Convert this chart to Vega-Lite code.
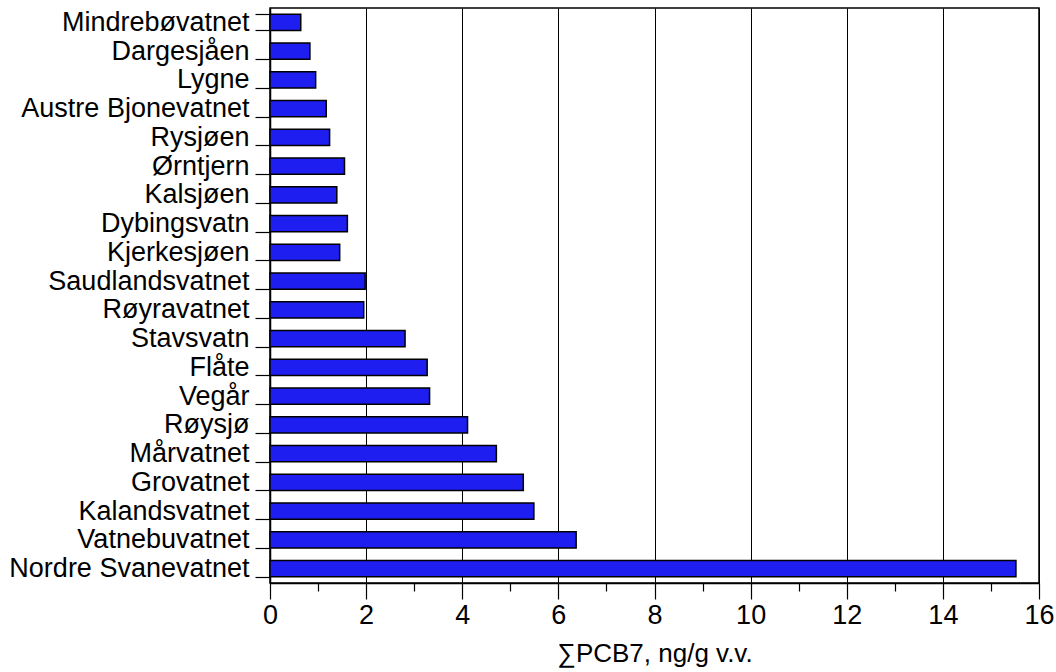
{
  "$schema": "https://vega.github.io/schema/vega-lite/v6.json",
  "autosize": "none",
  "width": 769,
  "height": 575,
  "padding": {"left": 270, "top": 8, "right": 17, "bottom": 89},
  "background": "white",
  "data": {
    "values": [
      {"lake": "Mindrebøvatnet", "pcb7": 0.64},
      {"lake": "Dargesjåen", "pcb7": 0.83},
      {"lake": "Lygne", "pcb7": 0.95},
      {"lake": "Austre Bjonevatnet", "pcb7": 1.17},
      {"lake": "Rysjøen", "pcb7": 1.24},
      {"lake": "Ørntjern", "pcb7": 1.55},
      {"lake": "Kalsjøen", "pcb7": 1.39},
      {"lake": "Dybingsvatn", "pcb7": 1.61},
      {"lake": "Kjerkesjøen", "pcb7": 1.45},
      {"lake": "Saudlandsvatnet", "pcb7": 1.98},
      {"lake": "Røyravatnet", "pcb7": 1.95},
      {"lake": "Stavsvatn", "pcb7": 2.81},
      {"lake": "Flåte", "pcb7": 3.27},
      {"lake": "Vegår", "pcb7": 3.32},
      {"lake": "Røysjø", "pcb7": 4.11},
      {"lake": "Mårvatnet", "pcb7": 4.71},
      {"lake": "Grovatnet", "pcb7": 5.27},
      {"lake": "Kalandsvatnet", "pcb7": 5.49},
      {"lake": "Vatnebuvatnet", "pcb7": 6.37},
      {"lake": "Nordre Svanevatnet", "pcb7": 15.52}
    ]
  },
  "mark": {"type": "bar", "fill": "#1e1ef0", "stroke": "black", "strokeWidth": 1.5},
  "encoding": {
    "y": {
      "field": "lake",
      "type": "nominal",
      "sort": null,
      "scale": {"paddingInner": 0.44, "paddingOuter": 0.22},
      "axis": {
        "title": null,
        "tickBand": "extent",
        "tickSize": 15,
        "tickColor": "black",
        "tickWidth": 1.2,
        "domainColor": "black",
        "domainWidth": 1.5,
        "labelFont": "Liberation Sans",
        "labelFontSize": 27,
        "labelColor": "black",
        "labelPadding": 6,
        "labelLimit": 0,
        "grid": false
      }
    },
    "x": {
      "field": "pcb7",
      "type": "quantitative",
      "scale": {"domain": [0, 16], "nice": false},
      "axis": {
        "title": "∑PCB7, ng/g v.v.",
        "titleFont": "Liberation Sans",
        "titleFontSize": 26,
        "titleFontWeight": "normal",
        "titleColor": "black",
        "titlePadding": 12,
        "values": [0, 0.5, 1, 1.5, 2, 2.5, 3, 3.5, 4, 4.5, 5, 5.5, 6, 6.5, 7, 7.5, 8, 8.5, 9, 9.5, 10, 10.5, 11, 11.5, 12, 12.5, 13, 13.5, 14, 14.5, 15, 15.5, 16],
        "format": "d",
        "labelExpr": "datum.value % 2 === 0 ? format(datum.value, 'd') : ''",
        "labelFont": "Liberation Sans",
        "labelFontSize": 27,
        "labelColor": "black",
        "labelPadding": 3,
        "labelFlush": false,
        "labelOverlap": false,
        "tickSize": {"condition": {"test": "datum.value % 2 === 0", "value": 16}, "value": 8},
        "tickColor": "black",
        "tickWidth": 1.2,
        "domainColor": "black",
        "domainWidth": 1.5,
        "grid": true,
        "gridColor": "black",
        "gridWidth": 1,
        "gridOpacity": {"condition": {"test": "datum.value % 2 === 0", "value": 1}, "value": 0}
      }
    }
  },
  "config": {
    "view": {"stroke": "black", "strokeWidth": 1.5}
  }
}
